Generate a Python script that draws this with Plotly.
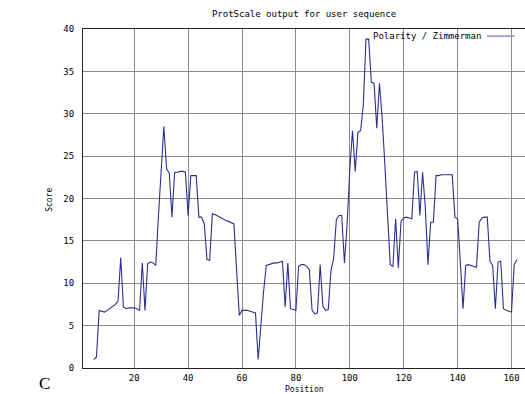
import plotly.graph_objects as go

# Data: ProtScale Polarity / Zimmerman, window positions 5..162
positions = list(range(5, 163))
scores = [
    1.0, 1.3, 6.8, 6.7, 6.6, 6.8, 7.0, 7.2, 7.5, 7.9,
    13.0, 7.2, 7.0, 7.1, 7.1, 7.1, 7.0, 6.8, 12.4, 6.8,
    12.3, 12.5, 12.4, 12.1, 18.0, 24.0, 28.5, 23.5, 23.0, 17.8,
    23.1, 23.1, 23.2, 23.2, 23.1, 18.0, 22.7, 22.7, 22.7, 17.8,
    17.8, 17.0, 12.8, 12.7, 18.2, 18.1, 17.9, 17.7, 17.6, 17.4,
    17.3, 17.1, 17.0, 11.5, 6.2, 6.8, 6.8, 6.8, 6.7, 6.6,
    6.5, 1.0, 5.5, 9.0, 12.1, 12.2, 12.3, 12.4, 12.4, 12.5,
    12.6, 7.2, 12.4, 7.0, 6.9, 6.8, 12.0, 12.2, 12.2, 12.0,
    11.6, 6.8, 6.4, 6.5, 12.2, 7.3, 6.8, 6.9, 11.5, 12.9,
    17.5, 18.0, 18.0, 12.4, 17.0, 23.5, 28.0, 23.2, 27.8, 28.0,
    31.0, 38.8, 38.8, 33.7, 33.6, 28.3, 33.6, 29.5, 24.0, 18.0,
    12.2, 12.0, 17.6, 11.8, 17.3, 17.7, 17.8, 17.7, 17.6, 23.1,
    23.2, 18.0, 23.1, 19.0, 12.2, 17.2, 17.2, 22.7, 22.7, 22.8,
    22.8, 22.8, 22.8, 22.8, 17.8, 17.6, 12.5, 7.0, 12.1, 12.2,
    12.1, 12.0, 11.9, 17.2, 17.7, 17.8, 17.8, 12.6, 12.1, 7.0,
    12.5, 12.6, 7.0, 6.8, 6.7, 6.6, 12.2, 12.8,
]
x_ticks = [20, 40, 60, 80, 100, 120, 140, 160]
y_ticks = [0, 5, 10, 15, 20, 25, 30, 35, 40]
series_name = "Polarity / Zimmerman"
title_text = "ProtScale output for user sequence"

MONO = "DejaVu Sans Mono"
LINE_COLOR = "#2e2e8e"
GRID = "#8a8a8a"

fig = go.Figure()
fig.add_trace(go.Scatter(
    x=positions, y=scores, mode="lines", name=series_name,
    line=dict(color=LINE_COLOR, width=1.1), showlegend=False,
))

fig.update_layout(
    width=525, height=394,
    margin=dict(l=83, r=0, t=29, b=26, autoexpand=False),
    paper_bgcolor="white", plot_bgcolor="white",
    font=dict(family=MONO, size=9, color="black"),
    title=dict(text=title_text, x=0.5, xref="paper", y=1 - 14 / 394,
               yanchor="middle", xanchor="center",
               font=dict(family=MONO, size=9, color="black")),
    xaxis=dict(range=[1.0, 165.0], tickvals=x_ticks, showgrid=True,
               gridcolor=GRID, gridwidth=1.2, showline=True, linecolor="#222",
               linewidth=1.2, mirror=True, ticks="outside", ticklen=1,
               tickcolor="rgba(0,0,0,0)", zeroline=False,
               tickfont=dict(family=MONO, size=9)),
    yaxis=dict(range=[0, 40], tickvals=y_ticks, showgrid=True,
               gridcolor=GRID, gridwidth=1.2, showline=True, linecolor="#222",
               linewidth=1.2, ticks="outside", ticklen=6,
               tickcolor="rgba(0,0,0,0)", zeroline=False,
               tickfont=dict(family=MONO, size=9)),
)

# Legend (line sample drawn to the right of the text, as in the original)
fig.add_annotation(text=series_name, xref="paper", yref="paper",
                   x=0.905, y=0.979, xanchor="right", yanchor="middle",
                   showarrow=False, font=dict(family=MONO, size=9, color="black"))
fig.add_shape(type="line", xref="paper", yref="paper",
              x0=0.914, x1=0.977, y0=0.979, y1=0.979,
              line=dict(color="#8c8cc0", width=1.5))

# Axis titles
fig.add_annotation(text="Position", xref="paper", yref="paper",
                   x=0.5, y=-0.063, xanchor="center", yanchor="middle",
                   showarrow=False, font=dict(family=MONO, size=8, color="black"))
fig.add_annotation(text="Score", xref="paper", yref="paper",
                   x=-0.0747, y=0.496, xanchor="center", yanchor="middle",
                   textangle=-90, showarrow=False,
                   font=dict(family=MONO, size=8, color="black"))
# Stray letter from the source page
fig.add_annotation(text="C", xref="paper", yref="paper",
                   x=-0.086, y=-0.046, xanchor="center", yanchor="middle",
                   showarrow=False,
                   font=dict(family="Liberation Serif", size=17, color="black"))

fig.write_html("out.html",
               config={"displayModeBar": False},
               post_script="document.body.style.margin='0';document.body.style.overflow='hidden';")
